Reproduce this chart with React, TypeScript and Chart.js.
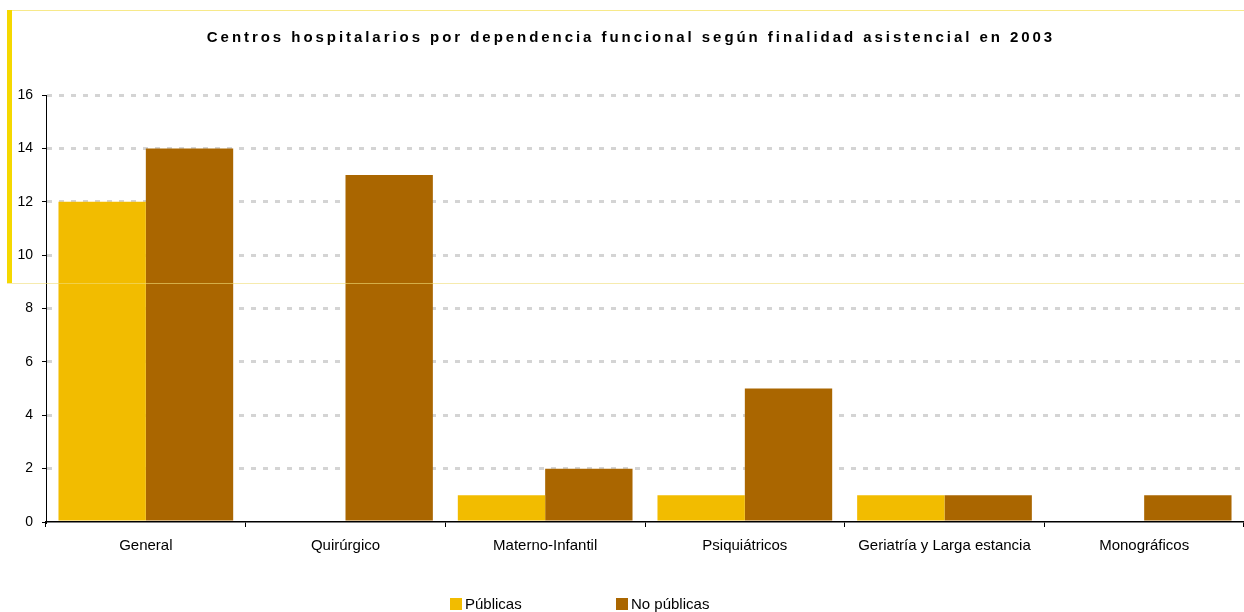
import React, { useEffect, useRef } from "react";
import { Chart, registerables } from "chart.js";
Chart.register(...registerables);

const TITLE = "Centros hospitalarios por dependencia funcional según finalidad asistencial en 2003";
const categories = [
  "General",
  "Quirúrgico",
  "Materno-Infantil",
  "Psiquiátricos",
  "Geriatría y Larga estancia",
  "Monográficos",
];
const seriesNames = ["Públicas", "No públicas"];
const publicas = [12, 0, 1, 1, 1, 0];
const noPublicas = [14, 13, 2, 5, 1, 1];
const seriesColors = ["#F2BC00", "#AA6600"];
const yMin = 0;
const yMax = 16;
const yStep = 2;

const FONT = "'Liberation Sans', Arial, Helvetica, sans-serif";

export default function App() {
  const ref = useRef<HTMLCanvasElement | null>(null);

  useEffect(() => {
    if (!ref.current) return;
    const chart = new Chart(ref.current, {
      type: "bar",
      data: {
        labels: categories,
        datasets: [
          { label: seriesNames[0], data: publicas, backgroundColor: seriesColors[0], borderWidth: 0, inflateAmount: 0 },
          { label: seriesNames[1], data: noPublicas, backgroundColor: seriesColors[1], borderWidth: 0, inflateAmount: 0 },
        ],
      },
      options: {
        animation: false,
        responsive: false,
        maintainAspectRatio: false,
        layout: { padding: { top: 95, left: 0, right: 0, bottom: 0 } },
        datasets: {
          bar: { categoryPercentage: 0.875, barPercentage: 1.0 },
        },
        plugins: {
          legend: { display: false },
          title: { display: false },
          tooltip: { enabled: false },
        },
        scales: {
          x: {
            offset: true,
            grid: {
              display: true,
              offset: true,
              drawOnChartArea: false,
              drawTicks: true,
              tickLength: 5,
              tickColor: "#000",
              tickWidth: 1,
              color: "#000",
            },
            border: { display: true, color: "#000", width: 1.5, z: 1 },
            ticks: {
              color: "#000",
              font: { family: FONT, size: 15 },
              padding: 10,
              maxRotation: 0,
              autoSkip: false,
            },
            afterFit: (scale: any) => {
              scale.height = 90;
            },
          },
          y: {
            min: yMin,
            max: yMax,
            grid: {
              display: true,
              drawTicks: true,
              tickLength: 4,
              tickColor: "#000",
              tickWidth: 1,
              tickBorderDash: [],
              lineWidth: 3,
              color: (ctx: any) => (ctx.tick && ctx.tick.value === 0 ? "rgba(0,0,0,0)" : "#D4D4D4"),
            },
            border: { display: true, color: "#000", width: 1, dash: [5, 7] },
            ticks: {
              stepSize: yStep,
              color: "#000",
              font: { family: FONT, size: 14 },
              padding: 9,
            },
            afterFit: (scale: any) => {
              scale.width = 46;
            },
          },
        },
      },
    });
    return () => chart.destroy();
  }, []);

  return (
    <div
      style={{
        position: "fixed",
        left: 0,
        top: 0,
        width: 1244,
        height: 612,
        background: "#fff",
        overflow: "hidden",
        fontFamily: FONT,
      }}
    >
      <canvas ref={ref} width={1244} height={612} style={{ position: "absolute", left: 0, top: 0 }} />
      {/* decorative frame */}
      <div style={{ position: "absolute", left: 7, top: 10, width: 1237, height: 1, background: "#F7E98A" }} />
      <div style={{ position: "absolute", left: 7, top: 10, width: 5, height: 273, background: "#F5D800" }} />
      <div
        style={{
          position: "absolute",
          left: 7,
          top: 283,
          width: 1237,
          height: 1,
          background: "rgba(240, 222, 120, 0.6)",
        }}
      />
      {/* title */}
      <div
        style={{
          position: "absolute",
          left: 0,
          width: 1262,
          top: 28,
          textAlign: "center",
          fontWeight: "bold",
          fontSize: 15,
          letterSpacing: "2.95px",
          color: "#000",
          whiteSpace: "nowrap",
        }}
      >
        {TITLE}
      </div>
      {/* legend */}
      {seriesNames.map((name, i) => (
        <div
          key={name}
          style={{
            position: "absolute",
            left: i === 0 ? 450 : 616,
            top: 595,
            display: "flex",
            alignItems: "center",
            fontSize: 15,
            color: "#000",
            whiteSpace: "nowrap",
          }}
        >
          <span style={{ display: "inline-block", width: 12, height: 12, background: seriesColors[i], marginRight: 3 }} />
          <span>{name}</span>
        </div>
      ))}
    </div>
  );
}
